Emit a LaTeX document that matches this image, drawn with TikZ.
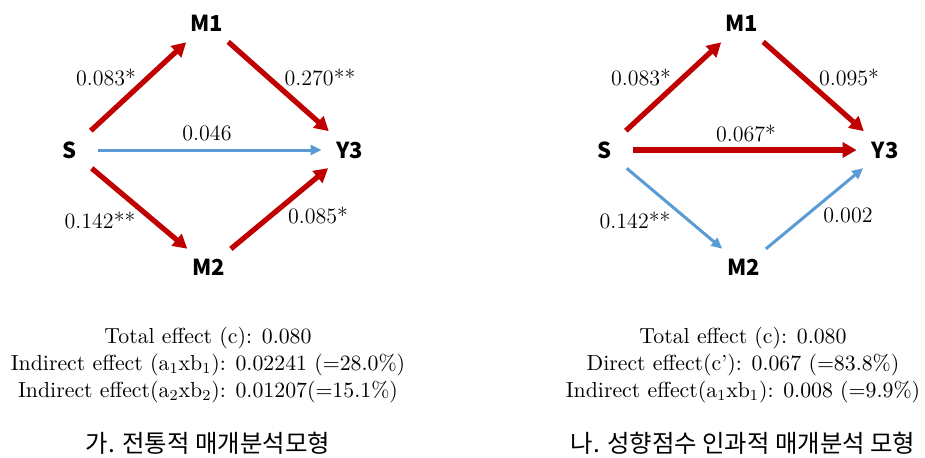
\documentclass[tikz,border=0pt]{standalone}
\usepackage{fontspec}
\usepackage{tikz}
\usetikzlibrary{arrows.meta}
\newfontfamily\krfont{Noto Sans CJK KR}
\definecolor{pathred}{HTML}{C00000}
\definecolor{pathblue}{HTML}{5B9BD5}
\tikzset{
  var/.style={circle, minimum size=28pt, inner sep=0pt, font=\krfont\bfseries\fontsize{11}{13}\selectfont},
  coef/.style={font=\fontsize{11}{13}\selectfont},
  sig/.style={draw=pathred, line width=2.6pt, -{Triangle[length=7pt, width=7.5pt]}},
  nonsig/.style={draw=pathblue, line width=1.5pt, -{Triangle[length=5.5pt, width=5pt]}},
  summary/.style={align=center, font=\fontsize{10.9}{13.5}\selectfont},
  caption/.style={font=\krfont\fontsize{12.2}{14}\selectfont}
}
\begin{document}
\begin{tikzpicture}[x=0.5pt, y=-0.5pt]
  \useasboundingbox (0,0) rectangle (925,457);

  % Left model
  \node[var] (sA) at (70,150) {S};
  \node[var] (mA1) at (207,23) {M1};
  \node[var] (mA2) at (209,267) {M2};
  \node[var] (yA) at (350,150) {Y3};

  \draw[sig] (sA) -- (mA1);
  \draw[sig] (mA1) -- (yA);
  \draw[nonsig] (sA) -- (yA);
  \draw[sig] (sA) -- (mA2);
  \draw[sig] (mA2) -- (yA);

  \node[coef] (aA1) at (106,77) {0.083*};
  \node[coef] (bA1) at (320,77) {0.270**};
  \node[coef] (cA) at (207,133) {0.046};
  \node[coef] (aA2) at (100,220) {0.142**};
  \node[coef] (bA2) at (318,215) {0.085*};

  \node[summary] (sumA) at (208,365) {Total effect (c): 0.080\\
    Indirect effect (a\textsubscript{1}xb\textsubscript{1}): 0.02241 (=28.0\%)\\
    Indirect effect(a\textsubscript{2}xb\textsubscript{2}): 0.01207(=15.1\%)};
  \node[caption] (capA) at (208,443) {가. 전통적 매개분석모형};

  % Right model
  \node[var] (sB) at (605,150) {S};
  \node[var] (mB1) at (742,23) {M1};
  \node[var] (mB2) at (744,267) {M2};
  \node[var] (yB) at (885,150) {Y3};

  \draw[sig] (sB) -- (mB1);
  \draw[sig] (mB1) -- (yB);
  \draw[sig] (sB) -- (yB);
  \draw[nonsig] (sB) -- (mB2);
  \draw[nonsig] (mB2) -- (yB);

  \node[coef] (aB1) at (641,77) {0.083*};
  \node[coef] (bB1) at (849,77) {0.095*};
  \node[coef] (cB) at (746,133) {0.067*};
  \node[coef] (aB2) at (635,220) {0.142**};
  \node[coef] (bB2) at (848,215) {0.002};

  \node[summary] (sumB) at (743,365) {Total effect (c): 0.080\\
    Direct effect(c’): 0.067 (=83.8\%)\\
    Indirect effect(a\textsubscript{1}xb\textsubscript{1}): 0.008 (=9.9\%)};
  \node[caption] (capB) at (743,443) {나. 성향점수 인과적 매개분석 모형};
\end{tikzpicture}
\end{document}
